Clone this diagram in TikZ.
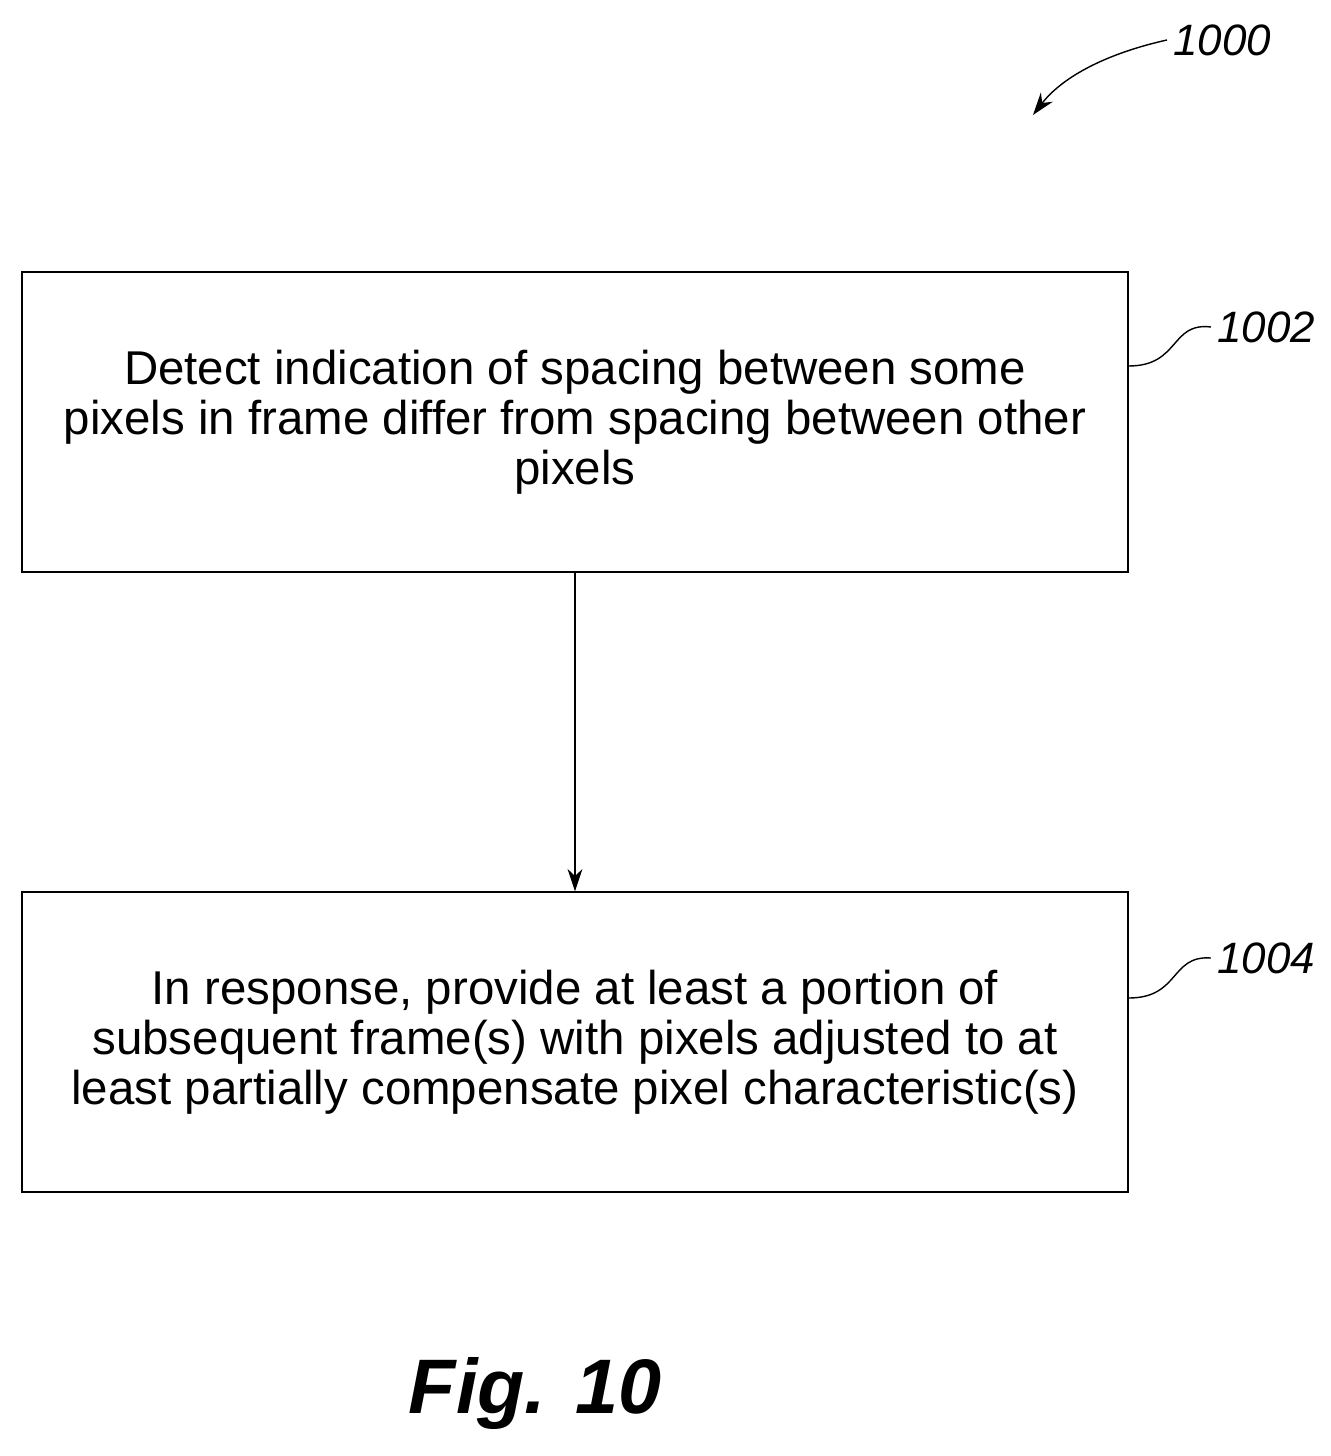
\documentclass[tikz,border=0pt]{standalone}
\usepackage{fontspec}
\setmainfont{Liberation Sans}
\usetikzlibrary{arrows.meta}
\tikzset{
    stepbox/.style={draw, thick, minimum width=22.12cm, minimum height=6cm, align=center,
        font=\fontsize{27}{28.5}\selectfont},
    reflabel/.style={font=\fontsize{25}{25}\selectfont\itshape},
    flowarrow/.style={-{Stealth[length=0.45cm, width=0.3cm]}, thick}
}
\begin{document}
\begin{tikzpicture}[x=0.02cm, y=-0.02cm]
            \useasboundingbox (0,0) rectangle (1331,1456);
            \node[stepbox] (detect) at (575,422) {Detect indication of spacing between some\\pixels in frame differ from spacing between other\\pixels};
            \node[stepbox] (compensate) at (575,1042) {In response, provide at least a portion of\\subsequent frame(s) with pixels adjusted to at\\least partially compensate pixel characteristic(s)};
            
            \draw[flowarrow] (detect)--(compensate);
            
            \node[reflabel] (fig) at (1222,40) {1000};
            \node[reflabel] (lbl1002) at (1266,327) {1002};
            \node[reflabel] (lbl1004) at (1266,958) {1004};
            
            \draw[flowarrow] (fig.west) .. controls (1100,55) and (1060,80) .. (1033,115);
            \draw[thick] (detect.east|-0,366) .. controls (1180,366) and (1170,322) .. (lbl1002.west);
            \draw[thick] (compensate.east|-0,998) .. controls (1180,998) and (1170,955) .. (lbl1004.west);
            
            \node[font=\fontsize{44}{44}\selectfont\bfseries\itshape] (caption) at (535,1393) {Fig. 10};
\end{tikzpicture}
\end{document}
